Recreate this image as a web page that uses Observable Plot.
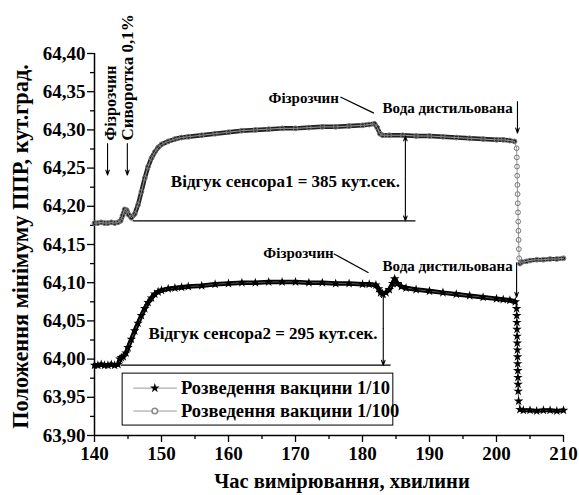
<!DOCTYPE html>
<html><head><meta charset="utf-8">
<script src="https://cdn.jsdelivr.net/npm/d3@7"></script>
<script src="https://cdn.jsdelivr.net/npm/@observablehq/plot@0.6"></script>
<style>body{margin:0;background:#fff} #chart svg{font-family:"Liberation Serif",serif}</style>
</head><body><div id="chart"></div>
<script>
// ---- data (time, minutes ; SPR minimum position, angular degrees) ----
const vaccine10 = [
[140,63.992],[140.5,63.992],[141,63.993],[141.5,63.992],[142,63.992],[142.5,63.993],[143,63.992],[143.5,63.993],
[143.8,64.000],[144,64.002],[144.3,64.003],[144.7,64.008],[145,64.015],[145.5,64.026],[146,64.037],[146.5,64.047],
[147,64.057],[147.5,64.066],[148,64.074],[148.5,64.080],[149,64.085],[149.5,64.088],[150,64.090],[151,64.092],
[152,64.093],[153,64.094],[154,64.095],[156,64.096],[158,64.098],[160,64.099],[162,64.100],[164,64.100],
[166,64.101],[168,64.101],[170,64.101],[172,64.100],[174,64.100],[176,64.099],[178,64.099],[180,64.098],
[181,64.098],[182,64.097],[182.4,64.092],[182.7,64.087],[183,64.086],[183.5,64.087],[184,64.091],[184.5,64.099],
[184.8,64.105],[185.2,64.099],[185.8,64.095],[186.5,64.093],[188,64.091],[190,64.089],[192,64.087],[194,64.085],
[196,64.083],[198,64.081],[200,64.079],[201,64.078],[202,64.077],[202.8,64.075],
[203.0,64.066],[203.02,64.057],[203.04,64.048],[203.06,64.039],[203.08,64.030],[203.1,64.021],[203.12,64.012],
[203.14,64.003],[203.16,63.994],[203.18,63.985],[203.2,63.976],[203.22,63.967],[203.24,63.958],[203.3,63.945],
[203.5,63.934],[204,63.933],[205,63.933],[206,63.932],[207,63.933],[208,63.933],[209,63.932],[210,63.933]
];
const vaccine100 = [
[140,64.178],[140.5,64.178],[141,64.179],[141.5,64.178],[142,64.178],[142.5,64.179],[143,64.178],[143.5,64.179],
[143.9,64.181],[144.2,64.188],[144.5,64.196],[144.8,64.195],[145.1,64.189],[145.5,64.185],[146,64.190],[146.5,64.202],
[147,64.219],[147.5,64.237],[148,64.252],[148.5,64.263],[149,64.271],[149.5,64.277],[150,64.281],[151,64.285],
[152,64.288],[153,64.290],[154,64.291],[156,64.293],[158,64.295],[160,64.297],[162,64.299],[164,64.300],
[166,64.301],[168,64.302],[170,64.302],[172,64.303],[174,64.304],[176,64.304],[178,64.305],[180,64.306],
[181,64.307],[181.8,64.308],[182.2,64.303],[182.6,64.295],[183,64.293],[184,64.293],[186,64.293],[188,64.292],
[190,64.292],[192,64.291],[194,64.290],[196,64.289],[198,64.288],[200,64.287],[201,64.287],[202,64.286],[202.7,64.285],
[203.0,64.276],[203.03,64.264],[203.06,64.252],[203.09,64.240],[203.12,64.228],[203.15,64.216],[203.18,64.204],
[203.21,64.192],[203.24,64.180],[203.27,64.168],[203.3,64.156],[203.33,64.144],[203.38,64.132],[203.5,64.125],
[203.8,64.127],[204.5,64.128],[205,64.129],[206,64.130],[207,64.130],[208,64.131],[209,64.131],[210,64.132]
];
const seriesNames = ["Розведення вакцини 1/10", "Розведення вакцини 1/100"];
const xMajor = [140,150,160,170,180,190,200,210];
const xMinor = [145,155,165,175,185,195,205];
const yMajor = [63.90,63.95,64.00,64.05,64.10,64.15,64.20,64.25,64.30,64.35,64.40];
const yMinor = [63.925,63.975,64.025,64.075,64.125,64.175,64.225,64.275,64.325,64.375];
const xTitle = "Час вимірювання, хвилини";
const yTitle = "Положення мінімуму ППР, кут.град.";

// annotations (in data units)
const notes = [
  {t:142.4, v:64.286, text:"Фізрозчин", rotate:-90, anchor:"start", size:16},
  {t:144.93, v:64.286, text:"Сиворотка 0,1%", rotate:-90, anchor:"start", size:17},
  {t:165.97, v:64.342, text:"Фізрозчин", rotate:0, anchor:"start", size:15},
  {t:183.0, v:64.328, text:"Вода дистильована", rotate:0, anchor:"start", size:15},
  {t:168.5, v:64.233, text:"Відгук сенсора1 = 385 кут.сек.", rotate:0, anchor:"middle", size:17},
  {t:165.2, v:64.138, text:"Фізрозчин", rotate:0, anchor:"start", size:15},
  {t:183.0, v:64.122, text:"Вода дистильована", rotate:0, anchor:"start", size:15},
  {t:165.15, v:64.033, text:"Відгук сенсора2 = 295 кут.сек.", rotate:0, anchor:"middle", size:17}
];
const arrows = [
  {t1:141.95, v1:64.282, t2:141.95, v2:64.241},
  {t1:144.9, v1:64.282, t2:144.9, v2:64.241},
  {t1:203.13, v1:64.337, t2:203.13, v2:64.296},
  {t1:203.0, v1:64.126, t2:203.0, v2:64.081},
  {t1:186.4, v1:64.236, t2:186.4, v2:64.292},
  {t1:186.4, v1:64.236, t2:186.4, v2:64.181},
  {t1:183.1, v1:64.040, t2:183.1, v2:64.087},
  {t1:183.1, v1:64.040, t2:183.1, v2:63.992}
];
const leaders = [
  {t1:176.7, v1:64.343, t2:181.7, v2:64.322},
  {t1:175.7, v1:64.138, t2:180.9, v2:64.113},
  {t1:145.7, v1:64.181, t2:187.9, v2:64.181},
  {t1:143.9, v1:63.992, t2:184.2, v2:63.992}
];
const legendBox = {t1:144.2, t2:184.6, v1:63.913, v2:63.981};
const legendRows = [63.962, 63.932];

// ---- build ----
const s1 = vaccine10.map(([t, v]) => ({t, v}));
const s2 = vaccine100.map(([t, v]) => ({t, v}));
const fmt = d => d.toFixed(2).replace(".", ",");
const FONT = "Liberation Serif";
const legendData = seriesNames.map((name, i) => ({name, v: legendRows[i], i}));
const noteMark = anchor => Plot.text(notes.filter(d => d.anchor === anchor), {
  x: "t", y: "v", text: "text", rotate: "rotate", textAnchor: anchor, fontSize: "size", fontWeight: "bold"
});

const chart = Plot.plot({
  width: 579, height: 495,
  marginLeft: 94, marginRight: 16, marginTop: 53, marginBottom: 60,
  style: {fontFamily: FONT, fontWeight: "bold", background: "#fff", color: "#000", overflow: "visible"},
  x: {domain: [140, 210]},
  y: {domain: [63.9, 64.4]},
  marks: [
    Plot.axisX({ticks: xMajor, tickSize: 7, tickPadding: 4, fontSize: 19, fontWeight: "bold", label: null, tickFormat: d => String(d), strokeWidth: 1.3}),
    Plot.axisX({ticks: xMinor, tickSize: 4, tickFormat: () => "", label: null, strokeWidth: 1.3}),
    Plot.axisY({ticks: yMajor, tickSize: 7, tickPadding: 2, fontSize: 19, fontWeight: "bold", label: null, tickFormat: fmt, strokeWidth: 1.3}),
    Plot.axisY({ticks: yMinor, tickSize: 4, tickFormat: () => "", label: null, strokeWidth: 1.3}),
    Plot.ruleX([140], {strokeWidth: 1.5}),
    Plot.ruleY([63.9], {strokeWidth: 1.5}),
    // axis titles
    Plot.text([yTitle], {frameAnchor: "left", textAnchor: "middle", lineAnchor: "middle", dx: -74, dy: 2, rotate: -90, fontSize: 22.3, fontWeight: "bold"}),
    Plot.text([xTitle], {frameAnchor: "bottom", textAnchor: "middle", lineAnchor: "middle", dx: 13, dy: 46, fontSize: 20.5, fontWeight: "bold"}),
    // series 1/100 (grey circles)
    Plot.line(s2.filter(d => d.t < 202.9), {x: "t", y: "v", stroke: "#222", strokeWidth: 4.5}),
    Plot.line(s2.filter(d => d.t > 203.4), {x: "t", y: "v", stroke: "#222", strokeWidth: 4}),
    Plot.line(s2, {x: "t", y: "v", stroke: "#999", strokeWidth: 1}),
    Plot.dot(s2, {x: "t", y: "v", r: 2.4, stroke: "#777", fill: "none", strokeWidth: 1}),
    // series 1/10 (black stars)
    Plot.line(s1.filter(d => d.t < 202.9), {x: "t", y: "v", stroke: "#000", strokeWidth: 4.5}),
    Plot.line(s1.filter(d => d.t > 203.4), {x: "t", y: "v", stroke: "#000", strokeWidth: 4}),
    Plot.line(s1, {x: "t", y: "v", stroke: "#555", strokeWidth: 1}),
    Plot.dot(s1, {x: "t", y: "v", r: 3, symbol: "star", fill: "#000"}),
    // annotation lines and arrows
    Plot.link(leaders, {x1: "t1", y1: "v1", x2: "t2", y2: "v2", stroke: "#000", strokeWidth: 1.2}),
    Plot.arrow(arrows, {x1: "t1", y1: "v1", x2: "t2", y2: "v2", stroke: "#000", strokeWidth: 1.1, headLength: 7, headAngle: 40}),
    noteMark("start"),
    noteMark("middle"),
    // legend
    Plot.rect([legendBox], {x1: "t1", x2: "t2", y1: "v1", y2: "v2", fill: "#fff", stroke: "#000", strokeWidth: 1}),
    Plot.link(legendData, {x1: 145.8, x2: 152.3, y1: "v", y2: "v", stroke: "#999", strokeWidth: 1}),
    Plot.dot(legendData.filter(d => d.i === 0), {x: 149.0, y: "v", r: 3, symbol: "star", fill: "#000"}),
    Plot.dot(legendData.filter(d => d.i === 1), {x: 149.0, y: "v", r: 2.8, stroke: "#888", fill: "#fff"}),
    Plot.text(legendData, {x: 152.9, y: "v", text: "name", textAnchor: "start", fontSize: 18.5, fontWeight: "bold"})
  ]
});
document.getElementById("chart").append(chart);
</script>
</body></html>
